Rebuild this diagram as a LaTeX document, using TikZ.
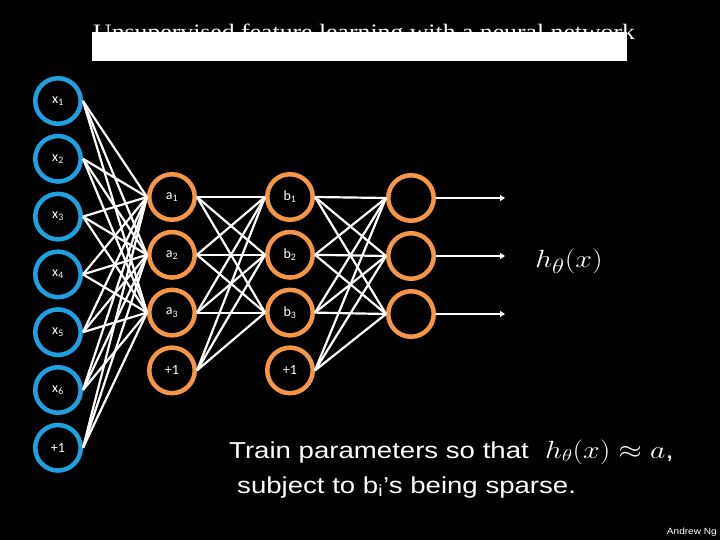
\documentclass[tikz,border=0pt]{standalone}
\usepackage[no-math]{fontspec}
\setmainfont{Liberation Sans}
\newfontfamily\seriffont{Liberation Serif}
\newfontfamily\lblfont{Carlito}
\usetikzlibrary{arrows.meta}
\definecolor{inblue}{RGB}{30,160,225}
\definecolor{orng}{RGB}{247,150,70}
\tikzset{
  inp/.style={circle, draw=inblue, line width=4.5pt, minimum size=45.5pt, inner sep=0pt,
    text=white, font=\lblfont\fontsize{14}{16}\selectfont},
  hid/.style={inp, draw=orng},
  conn/.style={white, line width=2.2pt},
  outarrow/.style={conn, -{Triangle[length=5pt,width=6pt]}},
  txt/.style={text=white, inner sep=0pt, anchor=base west},
}
\begin{document}
\begin{tikzpicture}[x=1pt,y=-1pt]
\fill[black] (0,0) rectangle (720,540);
\useasboundingbox (0,0) rectangle (720,540);
% title partly covered
\node[txt] (title) at (93,40) {\scalebox{1.17}[1]{\seriffont\fontsize{22}{26}\selectfont Unsupervised feature learning with a neural network}};
\fill[white] (92,32) rectangle (627,61);
% input layer
\node[inp] (x1) at (58,101) {x\textsubscript{1}};
\node[inp] (x2) at (58,158.8) {x\textsubscript{2}};
\node[inp] (x3) at (58,216.6) {x\textsubscript{3}};
\node[inp] (x4) at (58,274.4) {x\textsubscript{4}};
\node[inp] (x5) at (58,332.2) {x\textsubscript{5}};
\node[inp] (x6) at (58,390) {x\textsubscript{6}};
\node[inp] (x7) at (58,447.8) {+1};
% layer a
\node[hid] (a1) at (172,197) {a\textsubscript{1}};
\node[hid] (a2) at (172,254.8) {a\textsubscript{2}};
\node[hid] (a3) at (172,312.6) {a\textsubscript{3}};
\node[hid] (a4) at (172,370.4) {+1};
% layer b
\node[hid] (b1) at (290,197) {b\textsubscript{1}};
\node[hid] (b2) at (290,254.8) {b\textsubscript{2}};
\node[hid] (b3) at (290,312.6) {b\textsubscript{3}};
\node[hid] (b4) at (290,370.4) {+1};
% output layer
\node[hid] (o1) at (411,198) {};
\node[hid] (o2) at (411,256) {};
\node[hid] (o3) at (411,314) {};
\coordinate (tip) at (505,0);
% connectors
\foreach \i in {x1,x2,x3,x4,x5,x6,x7}
  \foreach \j in {a1,a2,a3}
    \draw[conn] (\i.east) -- (\j.west);
\foreach \i in {a1,a2,a3,a4}
  \foreach \j in {b1,b2,b3}
    \draw[conn] (\i.east) -- (\j.west);
\foreach \i in {b1,b2,b3,b4}
  \foreach \j in {o1,o2,o3}
    \draw[conn] (\i.east) -- (\j.west);
\foreach \j in {o1,o2,o3}
  \draw[outarrow] (\j.east) -- (\j.east -| tip);
% h_theta(x)
\node[text=white, inner sep=0pt] (h) at (569,261) {\scalebox{1.2}[1]{\fontsize{31}{36}\selectfont$h_\theta(x)$}};
% bottom text
\node[txt] (l1) at (229,458) {\scalebox{1.2}[1]{\fontsize{23}{27}\selectfont Train parameters so that}};
\node[txt] (m1) at (545,458) {\scalebox{1.2}[1]{\fontsize{24}{28}\selectfont$h_\theta(x)\approx a$,}};
\node[txt] (l2) at (237,493) {\scalebox{1.2}[1]{\fontsize{23}{27}\selectfont subject to b\textsubscript{i}’s being sparse.}};
\node[text=white, inner sep=0pt, anchor=base east] (ng) at (717,534) {\scalebox{1.12}[1]{\fontsize{9}{11}\selectfont Andrew Ng}};
\end{tikzpicture}
\end{document}
